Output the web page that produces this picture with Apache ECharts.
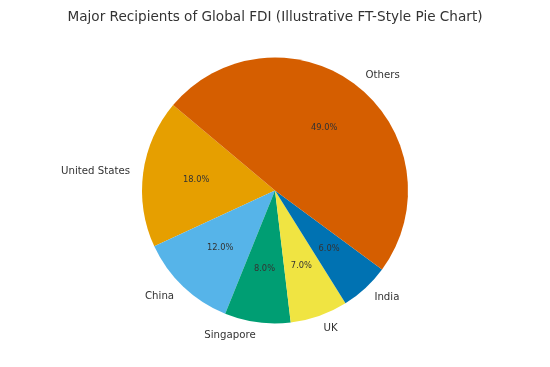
<!DOCTYPE html>
<html><head><meta charset="utf-8">
<script src="https://cdn.jsdelivr.net/npm/echarts@6/dist/echarts.min.js"></script>
<style>html,body{margin:0;padding:0;background:#fff}#c{width:550px;height:367px}</style>
</head><body><div id="c"></div>
<script>
const categories = ['United States', 'China', 'Singapore', 'UK', 'India', 'Others'];
const values = [18, 12, 8, 7, 6, 49];
const colors = ['#E69F00', '#56B4E9', '#009E73', '#F0E442', '#0072B2', '#D55E00'];
const titleText = 'Major Recipients of Global FDI (Illustrative FT-Style Pie Chart)';

const total = values.reduce((a, b) => a + b, 0);
const R = 133;
const font = 'DejaVu Sans';
const chart = echarts.init(document.getElementById('c'), null, {renderer: 'canvas'});
chart.setOption({
  animation: false,
  title: {text: titleText, left: 'center', top: 5,
    textStyle: {fontFamily: font, fontSize: 13.6, fontWeight: 'normal', color: '#333'}},
  series: [
    {
      type: 'pie', center: [275, 190.5], radius: [0, R], startAngle: 140, clockwise: false,
      avoidLabelOverlap: false, silent: true,
      data: categories.map((n, i) => ({name: n, value: values[i], itemStyle: {color: colors[i]}})),
      label: {show: true, position: 'outside', formatter: '{b}', fontFamily: font, fontSize: 10.2,
        color: '#333', distanceToLabelLine: 0, padding: [4, 0, 0, 0]},
      labelLine: {show: false, length: R * 0.1, length2: 0},
      emphasis: {disabled: true}
    },
    {
      type: 'pie', center: [275, 190.5], radius: [R * 0.15, R], startAngle: 140, clockwise: false,
      avoidLabelOverlap: false, silent: true,
      data: categories.map((n, i) => ({name: n, value: values[i]})),
      itemStyle: {color: 'rgba(0,0,0,0)'},
      label: {show: true, position: 'inside',
        formatter: p => (p.value / total * 100).toFixed(1) + '%',
        fontFamily: font, fontSize: 8.3, color: '#333'},
      labelLine: {show: false},
      emphasis: {disabled: true}
    }
  ]
});
</script></body></html>
